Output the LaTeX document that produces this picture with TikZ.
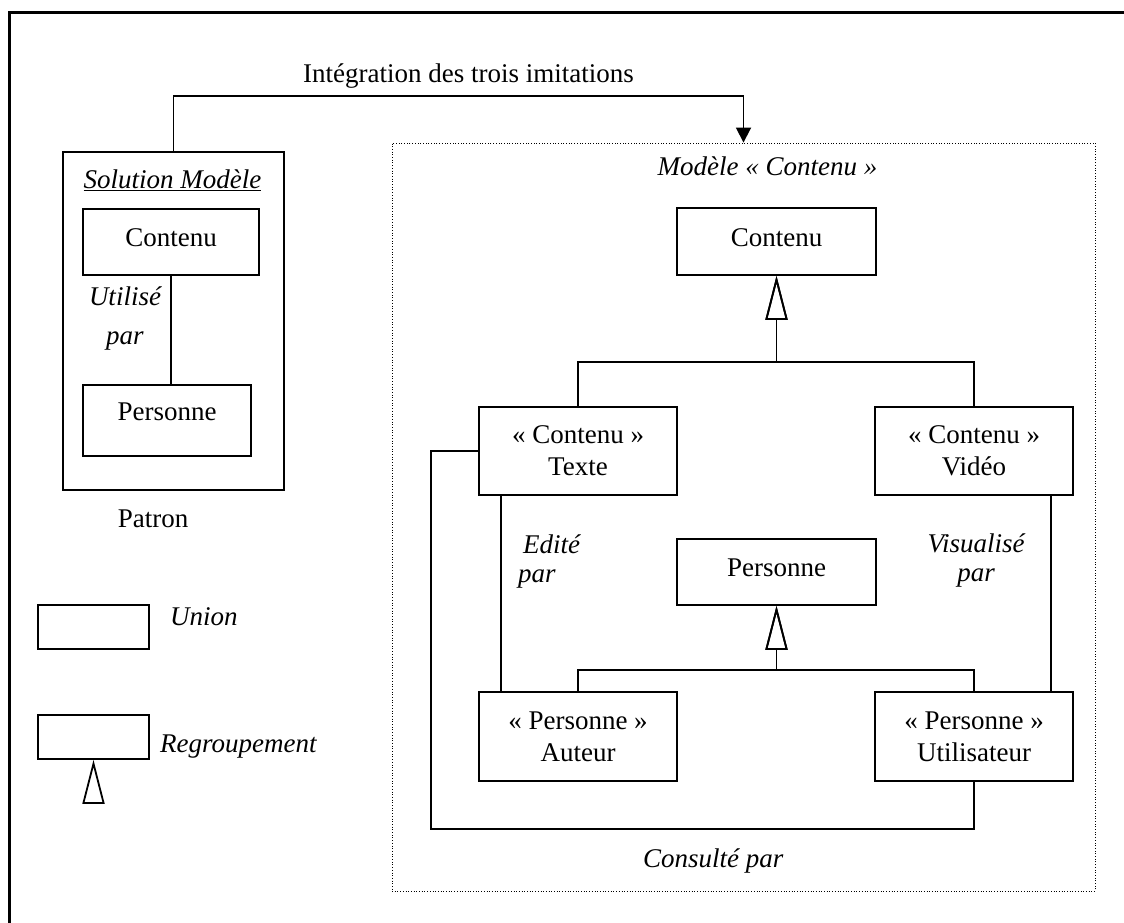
\documentclass[tikz,border=0pt]{standalone}
\usepackage{fontspec}
\setmainfont{Liberation Serif}
\usetikzlibrary{arrows.meta}

\begin{document}
\begin{tikzpicture}[x=1pt,y=-1pt,
  every node/.style={font=\fontsize{27}{32}\selectfont, inner sep=0pt},
  box/.style={draw, line width=1.8pt, align=center},
  onebox/.style={box, text height=18pt},
  link/.style={line width=1.8pt},
  gen/.style={link, -{Triangle[open, length=44pt, width=22pt, line width=1.8pt]}},
  flow/.style={link, -{Triangle[length=15pt, width=15pt]}},
  lbl/.style={font=\fontsize{27}{29}\selectfont\itshape, align=center},
  plain/.style={font=\fontsize{27}{32}\selectfont}]

\useasboundingbox (0,0) rectangle (1124,922);

% outer frame (its right and lower sides lie beyond the page)
\draw[line width=3pt] (9,940) -- (9,12) -- (1140,12);

% ---------- pattern on the left ----------
\node[draw, line width=1.8pt, minimum width=221pt, minimum height=338pt] (patron) at (173.5,321) {};
\node[anchor=base, font=\fontsize{27}{32}\selectfont\itshape] (soltitle) at (172.5,188) {\underline{Solution Modèle}};
\node[onebox, minimum width=176pt, minimum height=66pt, text depth=10pt] (contenuP) at (171,242) {Contenu};
\node[onebox, minimum width=168pt, minimum height=71pt, text depth=19pt] (personneP) at (167,420.5) {Personne};
\draw[link] (contenuP.south) -- (contenuP.south |- personneP.north);
% a multi-line node's base anchor sits on its last line
\node[lbl, font=\fontsize{27}{39}\selectfont\itshape, anchor=base] (utilise) at (125,344) {Utilisé\\par};
\node[plain, anchor=base] (patronlbl) at (153,527) {Patron};

% ---------- legend ----------
\node[draw, line width=1.8pt, minimum width=111pt, minimum height=44pt] (union) at (93.5,627) {};
\node[lbl, anchor=base west] (unionlbl) at (170,625) {Union};
\node[draw, line width=1.8pt, minimum width=111pt, minimum height=44pt] (regroup) at (93.5,737) {};
\coordinate (legbase) at (93.5,803);
\draw[gen] (legbase) -- (regroup.south);
\node[lbl, anchor=base west] (regrouplbl) at (160,752) {Regroupement};

% ---------- model on the right ----------
\node[draw, line width=0.9pt, dash pattern=on 0.9pt off 1.8pt, minimum width=703pt, minimum height=748pt] (model) at (743.5,517) {};
\node[lbl, anchor=base] (modeltitle) at (767.5,175) {Modèle « Contenu »};

\node[onebox, minimum width=199pt, minimum height=67pt, text depth=9pt] (contenuM) at (776.5,241.5) {Contenu};
\node[box, minimum width=198pt, minimum height=88pt] (texte) at (578,451) {« Contenu »\\Texte};
\node[box, minimum width=198pt, minimum height=88pt] (video) at (974,451) {« Contenu »\\Vidéo};
\node[onebox, minimum width=199pt, minimum height=66pt, text depth=10pt] (personneM) at (776.5,572) {Personne};
\node[box, minimum width=198pt, minimum height=89pt] (auteur) at (578,736.5) {« Personne »\\Auteur};
\node[box, minimum width=198pt, minimum height=89pt] (utilisateur) at (974,736.5) {« Personne »\\Utilisateur};

% generalisations
\draw[gen] (texte.north) -- ++(0,-44) -| (contenuM.south);
\draw[gen] (video.north) -- ++(0,-44) -| (contenuM.south);
\draw[gen] (auteur.north) -- ++(0,-21) -| (personneM.south);
\draw[gen] (utilisateur.north) -- ++(0,-21) -| (personneM.south);

% associations
\draw[link] ([xshift=-77pt]texte.south) -- ([xshift=-77pt]auteur.north);
\node[lbl, align=left, anchor=base west] (edite) at (518,582) {\hspace*{5pt}Edité\\par};
\draw[link] ([xshift=77pt]video.south) -- ([xshift=77pt]utilisateur.north);
\node[lbl, anchor=base] (visualise) at (976,581) {Visualisé\\par};
\draw[link] (texte.west) -- ++(-47,0) |- ([yshift=-47pt]utilisateur.south) -- (utilisateur.south);
\node[lbl, anchor=base west] (consulte) at (643,867) {Consulté par};

% integration of the pattern into the model
\draw[flow] (patron.north) -- ++(0,-55) -| (model.north);
\node[plain, anchor=base west] (integ) at (303,82) {Intégration des trois imitations};

\end{tikzpicture}
\end{document}
